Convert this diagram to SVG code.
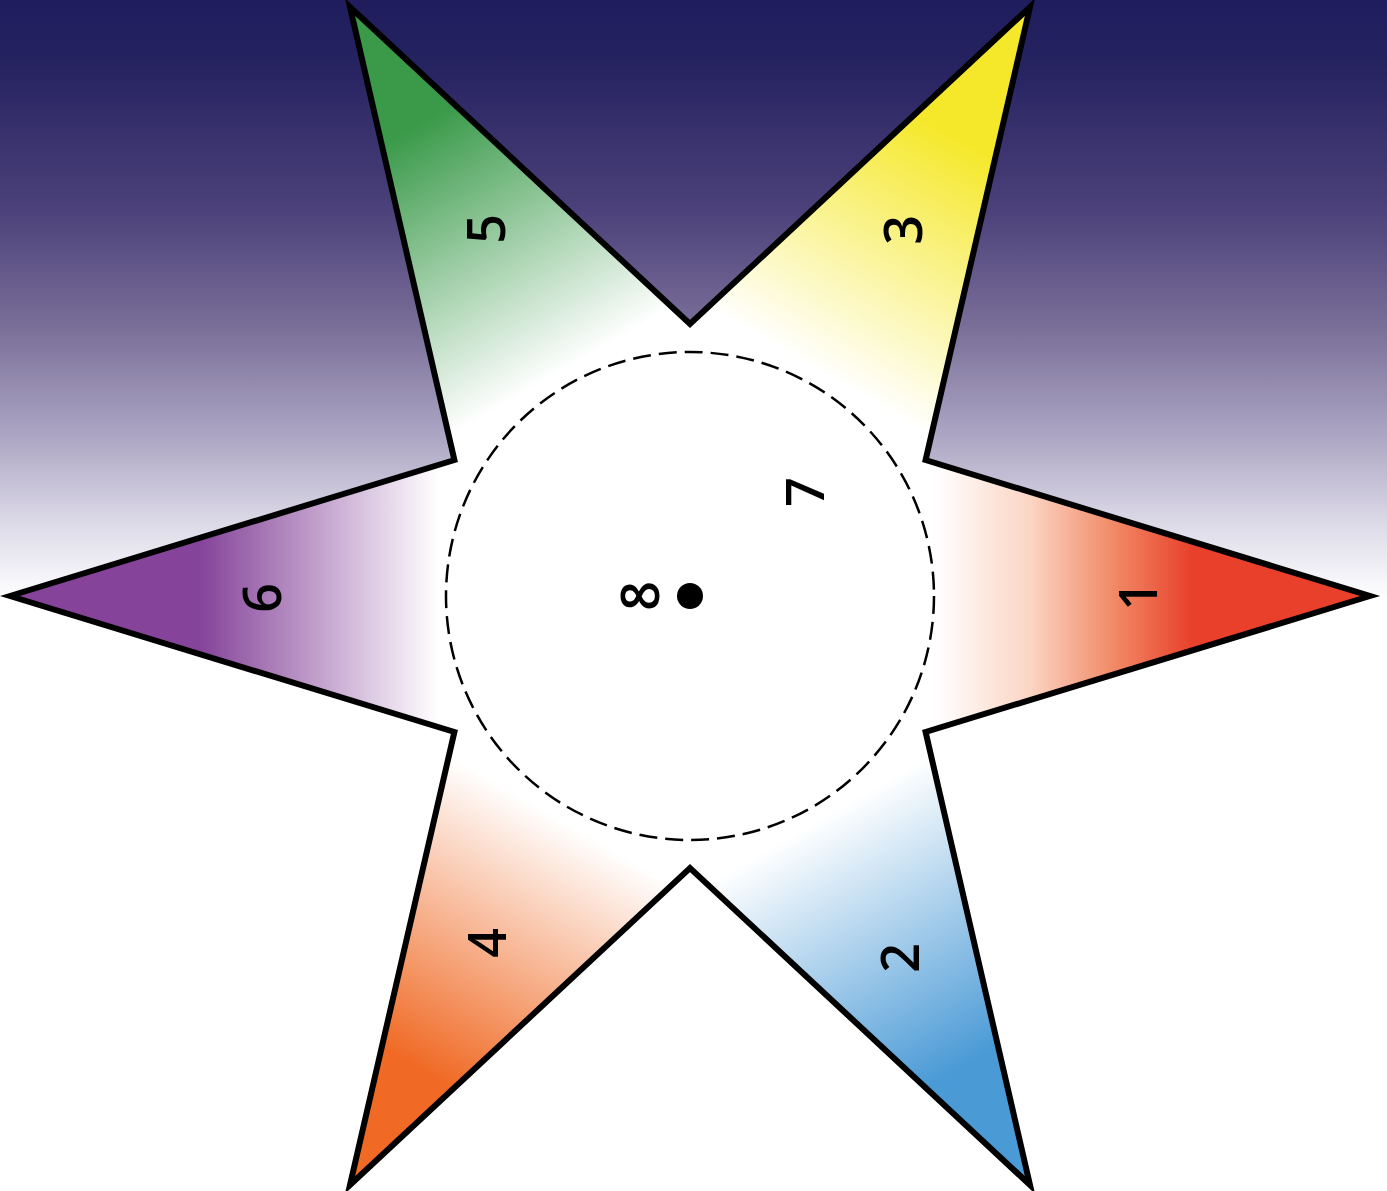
<svg xmlns="http://www.w3.org/2000/svg" width="1387" height="1191" viewBox="0 0 1387 1191">
<defs>
<linearGradient id="bg" gradientUnits="userSpaceOnUse" x1="0" y1="0" x2="0" y2="600">
<stop offset="0" stop-color="#1f1d5d"/>
<stop offset="0.1" stop-color="#252260"/>
<stop offset="0.35" stop-color="#4c417a"/>
<stop offset="0.55" stop-color="#7b7099"/>
<stop offset="0.72" stop-color="#aaa3c2"/>
<stop offset="0.87" stop-color="#dcd9e7"/>
<stop offset="1" stop-color="#ffffff"/>
</linearGradient>
<linearGradient id="g1" gradientUnits="userSpaceOnUse" x1="690" y1="596" x2="1370" y2="596">
<stop offset="0" stop-color="#fff"/><stop offset="0.36" stop-color="#fff"/><stop offset="0.5" stop-color="#fbd5c4"/><stop offset="0.62" stop-color="#f18b68"/><stop offset="0.74" stop-color="#e8402a"/><stop offset="1" stop-color="#e8402a"/>
</linearGradient>
<linearGradient id="g3" gradientUnits="userSpaceOnUse" x1="690" y1="596" x2="1030" y2="7">
<stop offset="0" stop-color="#fff"/><stop offset="0.38" stop-color="#fff"/><stop offset="0.78" stop-color="#f5e82a"/><stop offset="1" stop-color="#f5e82a"/>
</linearGradient>
<linearGradient id="g5" gradientUnits="userSpaceOnUse" x1="690" y1="596" x2="350" y2="7">
<stop offset="0" stop-color="#fff"/><stop offset="0.38" stop-color="#fff"/><stop offset="0.8" stop-color="#3a9a4a"/><stop offset="1" stop-color="#3a9a4a"/>
</linearGradient>
<linearGradient id="g6" gradientUnits="userSpaceOnUse" x1="690" y1="596" x2="10" y2="596">
<stop offset="0" stop-color="#fff"/><stop offset="0.37" stop-color="#fff"/><stop offset="0.72" stop-color="#85449a"/><stop offset="1" stop-color="#85449a"/>
</linearGradient>
<linearGradient id="g4" gradientUnits="userSpaceOnUse" x1="690" y1="596" x2="350" y2="1185">
<stop offset="0" stop-color="#fff"/><stop offset="0.38" stop-color="#fff"/><stop offset="0.8" stop-color="#f06a25"/><stop offset="1" stop-color="#f06a25"/>
</linearGradient>
<linearGradient id="g2" gradientUnits="userSpaceOnUse" x1="690" y1="596" x2="1030" y2="1185">
<stop offset="0" stop-color="#fff"/><stop offset="0.38" stop-color="#fff"/><stop offset="0.8" stop-color="#4a9ad6"/><stop offset="1" stop-color="#4a9ad6"/>
</linearGradient>
</defs>
<style>
.lbl{font-family:"Open Sans","Liberation Sans",sans-serif;font-size:52px;font-weight:600;fill:#000;text-anchor:middle}
.arm{stroke:none}
</style>
<rect id="background" x="0" y="0" width="1387" height="1191" fill="url(#bg)"/>
<g id="star">
<polygon points="1370,596 925.6,732 1030,1185 690,868 350,1185 454.4,732 10,596 454.4,460 350,7 690,324 1030,7 925.6,460" fill="#fff"/>
<polygon class="arm" points="690,596 925.6,460 1370,596 925.6,732" fill="url(#g1)"/>
<polygon class="arm" points="690,596 690,324 1030,7 925.6,460" fill="url(#g3)"/>
<polygon class="arm" points="690,596 454.4,460 350,7 690,324" fill="url(#g5)"/>
<polygon class="arm" points="690,596 454.4,732 10,596 454.4,460" fill="url(#g6)"/>
<polygon class="arm" points="690,596 690,868 350,1185 454.4,732" fill="url(#g4)"/>
<polygon class="arm" points="690,596 925.6,732 1030,1185 690,868" fill="url(#g2)"/>
<polygon points="1370,596 925.6,732 1030,1185 690,868 350,1185 454.4,732 10,596 454.4,460 350,7 690,324 1030,7 925.6,460" fill="none" stroke="#000" stroke-width="6" stroke-linejoin="miter" stroke-miterlimit="20"/>
</g>
<g id="center-circle">
<circle cx="690" cy="596" r="244" fill="none" stroke="#000" stroke-width="2.5" stroke-dasharray="18 8"/>
<circle cx="690" cy="596" r="13" fill="#000"/>
</g>
<g id="labels">
<text class="lbl" transform="translate(1138,596) rotate(-90)" y="18.6">1</text>
<text class="lbl" transform="translate(900,958) rotate(-90)" y="18.6">2</text>
<text class="lbl" transform="translate(903,230) rotate(-90)" y="18.6">3</text>
<text class="lbl" transform="translate(487,943) rotate(-90)" y="18.6">4</text>
<text class="lbl" transform="translate(486,229) rotate(-90)" y="18.6">5</text>
<text class="lbl" transform="translate(262,598) rotate(-90)" y="18.6">6</text>
<text class="lbl" transform="translate(805,492) rotate(-90)" y="18.6">7</text>
<text class="lbl" transform="translate(640,596) rotate(-90)" y="18.6">8</text>
</g>
</svg>
